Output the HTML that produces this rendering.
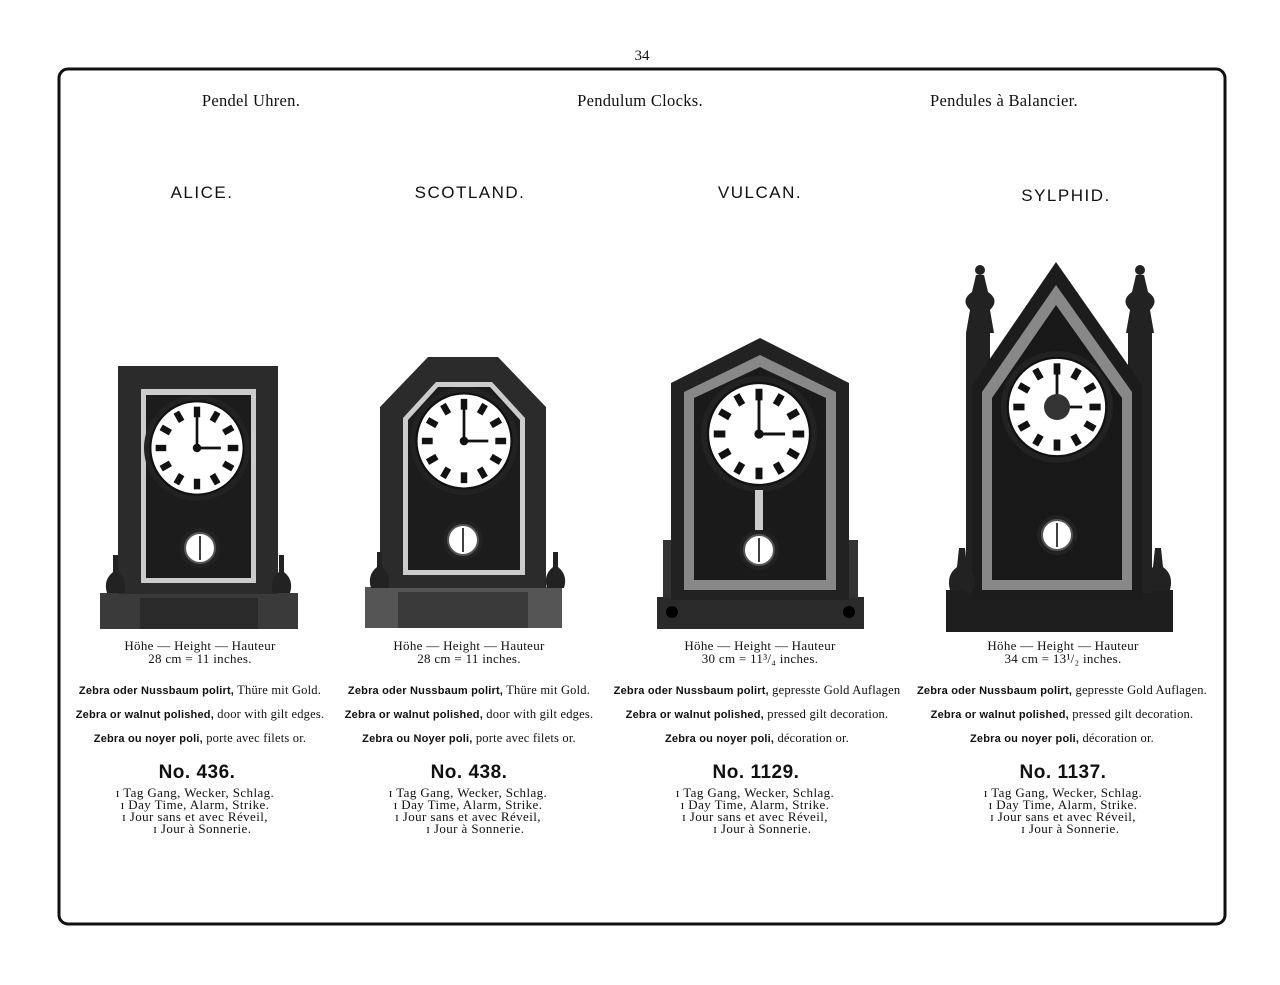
<!DOCTYPE html>
<html><head><meta charset="utf-8"><style>
body{margin:0;background:#fff;}
#p{position:relative;width:1280px;height:985px;overflow:hidden;background:#fff;font-family:"Liberation Serif",serif;color:#111;}
.t{position:absolute;white-space:nowrap;text-align:center;transform:translateX(-50%);}
.h{font-size:16.5px;top:91px;letter-spacing:0.3px;}
.n{font-family:"Liberation Sans",sans-serif;font-size:17px;letter-spacing:1.5px;top:183px;}
.ht{font-size:13px;line-height:13px;top:639px;letter-spacing:0.3px;}
.d{font-size:12.5px;letter-spacing:0.2px;}
.d b{font-family:"Liberation Sans",sans-serif;font-size:11px;}
.no{font-family:"Liberation Sans",sans-serif;font-size:19px;font-weight:bold;letter-spacing:0.5px;top:762px;}
.f{font-size:13px;line-height:12px;top:787px;letter-spacing:0.4px;}
</style></head><body><div id="p">
<svg width="1280" height="985" style="position:absolute;left:0;top:0">
<defs>
<g id="dial">
<circle r="1" fill="#222"/>
<circle r="0.88" fill="#fff" stroke="#111" stroke-width="0.04"/>
<g fill="#111">
<rect x="-0.06" y="-0.78" width="0.12" height="0.2"/>
<rect x="-0.06" y="-0.78" width="0.12" height="0.2" transform="rotate(30)"/>
<rect x="-0.06" y="-0.78" width="0.12" height="0.2" transform="rotate(60)"/>
<rect x="-0.06" y="-0.78" width="0.12" height="0.2" transform="rotate(90)"/>
<rect x="-0.06" y="-0.78" width="0.12" height="0.2" transform="rotate(120)"/>
<rect x="-0.06" y="-0.78" width="0.12" height="0.2" transform="rotate(150)"/>
<rect x="-0.06" y="-0.78" width="0.12" height="0.2" transform="rotate(180)"/>
<rect x="-0.06" y="-0.78" width="0.12" height="0.2" transform="rotate(210)"/>
<rect x="-0.06" y="-0.78" width="0.12" height="0.2" transform="rotate(240)"/>
<rect x="-0.06" y="-0.78" width="0.12" height="0.2" transform="rotate(270)"/>
<rect x="-0.06" y="-0.78" width="0.12" height="0.2" transform="rotate(300)"/>
<rect x="-0.06" y="-0.78" width="0.12" height="0.2" transform="rotate(330)"/>
</g>
<path d="M0 0 L0 -0.6 M0 0 L0.45 0" stroke="#111" stroke-width="0.05"/>
<circle r="0.08" fill="#111"/>
</g>
<g id="pend"><circle r="1" fill="#222"/><circle r="0.75" fill="#fff" stroke="#555" stroke-width="0.1"/><path d="M0 -0.6V0.6" stroke="#111" stroke-width="0.08"/></g>
</defs>
<rect x="59" y="69" width="1166" height="855" rx="9" fill="none" stroke="#111" stroke-width="3"/>

<!-- ALICE -->
<rect x="100" y="593" width="198" height="36" fill="#3a3a3a"/>
<rect x="140" y="598" width="118" height="31" fill="#2a2a2a"/>
<rect x="118" y="366" width="160" height="228" fill="#2b2b2b"/>
<rect x="141" y="389" width="115" height="194" fill="#ccc"/>
<rect x="146" y="395" width="105" height="183" fill="#1c1c1c"/>
<use href="#dial" transform="translate(197,448) scale(53)"/>
<use href="#pend" transform="translate(200,548) scale(20)"/>
<path d="M107 593 Q103 580 113 572 L113 555 L118 555 L118 572 Q128 580 124 593Z" fill="#222"/>
<path d="M273 593 Q269 580 279 572 L279 555 L284 555 L284 572 Q294 580 290 593Z" fill="#222"/>

<!-- SCOTLAND -->
<rect x="365" y="587" width="197" height="41" fill="#555"/>
<rect x="398" y="592" width="130" height="36" fill="#3a3a3a"/>
<path d="M380 407 L428 357 L498 357 L546 407 L546 588 L380 588Z" fill="#2b2b2b"/>
<path d="M403 418 L436 382 L492 382 L525 418 L525 575 L403 575Z" fill="#ccc"/>
<path d="M408 420 L438 387 L490 387 L520 420 L520 570 L408 570Z" fill="#1c1c1c"/>
<use href="#dial" transform="translate(464,441) scale(54)"/>
<use href="#pend" transform="translate(463,540) scale(20)"/>
<path d="M371 588 Q367 575 377 567 L377 552 L382 552 L382 567 Q392 575 388 588Z" fill="#222"/>
<path d="M547 588 Q543 575 553 567 L553 552 L558 552 L558 567 Q568 575 564 588Z" fill="#222"/>

<!-- VULCAN -->
<rect x="657" y="597" width="207" height="32" fill="#2a2a2a"/>
<rect x="663" y="540" width="24" height="58" fill="#333"/>
<rect x="834" y="540" width="24" height="58" fill="#333"/>
<path d="M671 383 L760 338 L849 383 L849 600 L671 600Z" fill="#222"/>
<path d="M684 392 L760 355 L836 392 L836 590 L684 590Z" fill="#888"/>
<path d="M694 398 L760 367 L826 398 L826 580 L694 580Z" fill="#1a1a1a"/>
<use href="#dial" transform="translate(759,434) scale(58)"/>
<rect x="755" y="490" width="8" height="40" fill="#ccc"/>
<use href="#pend" transform="translate(759,550) scale(20)"/>
<circle cx="672" cy="612" r="6" fill="#000"/><circle cx="849" cy="612" r="6" fill="#000"/>

<!-- SYLPHID -->
<rect x="946" y="590" width="227" height="42" fill="#1e1e1e"/>
<rect x="966" y="333" width="24" height="260" fill="#222"/>
<rect x="1128" y="333" width="24" height="260" fill="#222"/>
<path d="M972 385 L1056 262 L1142 385 L1142 600 L972 600Z" fill="#1c1c1c"/>
<path d="M982 392 L1056 285 L1132 392 L1132 590 L982 590Z" fill="#888"/>
<path d="M992 398 L1056 305 L1122 398 L1122 580 L992 580Z" fill="#181818"/>
<use href="#dial" transform="translate(1057,407) scale(56)"/>
<circle cx="1057" cy="407" r="13" fill="#333"/>
<use href="#pend" transform="translate(1057,535) scale(20)"/>
<path d="M966 333 L970 310 Q960 300 972 292 L976 275 L984 275 L988 292 Q1000 300 990 310 L994 333Z" fill="#222"/>
<circle cx="980" cy="270" r="5" fill="#222"/>
<path d="M1126 333 L1130 310 Q1120 300 1132 292 L1136 275 L1144 275 L1148 292 Q1160 300 1150 310 L1154 333Z" fill="#222"/>
<circle cx="1140" cy="270" r="5" fill="#222"/>
<path d="M950 590 Q946 575 957 567 L959 548 L965 548 L967 567 Q978 575 974 590Z" fill="#222"/>
<path d="M1146 590 Q1142 575 1153 567 L1155 548 L1161 548 L1163 567 Q1174 575 1170 590Z" fill="#222"/>
</svg>

<div class="t" style="left:642px;top:48px;font-size:15px">34</div>
<div class="t h" style="left:251px">Pendel Uhren.</div>
<div class="t h" style="left:640px">Pendulum Clocks.</div>
<div class="t h" style="left:1004px">Pendules à Balancier.</div>
<div class="t n" style="left:202px">ALICE.</div>
<div class="t n" style="left:470px">SCOTLAND.</div>
<div class="t n" style="left:760px">VULCAN.</div>
<div class="t n" style="left:1066px;top:186px">SYLPHID.</div>

<div class="t ht" style="left:200px">Höhe — Height — Hauteur<br>28 cm = 11 inches.</div>
<div class="t ht" style="left:469px">Höhe — Height — Hauteur<br>28 cm = 11 inches.</div>
<div class="t ht" style="left:760px">Höhe — Height — Hauteur<br>30 cm = 11³/₄ inches.</div>
<div class="t ht" style="left:1063px">Höhe — Height — Hauteur<br>34 cm = 13¹/₂ inches.</div>

<div class="t d" style="left:200px;top:683px"><b>Zebra oder Nussbaum polirt,</b> Thüre mit Gold.</div>
<div class="t d" style="left:200px;top:707px"><b>Zebra or walnut polished,</b> door with gilt edges.</div>
<div class="t d" style="left:200px;top:731px"><b>Zebra ou noyer poli,</b> porte avec filets or.</div>
<div class="t d" style="left:469px;top:683px"><b>Zebra oder Nussbaum polirt,</b> Thüre mit Gold.</div>
<div class="t d" style="left:469px;top:707px"><b>Zebra or walnut polished,</b> door with gilt edges.</div>
<div class="t d" style="left:469px;top:731px"><b>Zebra ou Noyer poli,</b> porte avec filets or.</div>
<div class="t d" style="left:757px;top:683px"><b>Zebra oder Nussbaum polirt,</b> gepresste Gold Auflagen</div>
<div class="t d" style="left:757px;top:707px"><b>Zebra or walnut polished,</b> pressed gilt decoration.</div>
<div class="t d" style="left:757px;top:731px"><b>Zebra ou noyer poli,</b> décoration or.</div>
<div class="t d" style="left:1062px;top:683px"><b>Zebra oder Nussbaum polirt,</b> gepresste Gold Auflagen.</div>
<div class="t d" style="left:1062px;top:707px"><b>Zebra or walnut polished,</b> pressed gilt decoration.</div>
<div class="t d" style="left:1062px;top:731px"><b>Zebra ou noyer poli,</b> décoration or.</div>

<div class="t no" style="left:197px">No. 436.</div>
<div class="t no" style="left:469px">No. 438.</div>
<div class="t no" style="left:756px">No. 1129.</div>
<div class="t no" style="left:1063px">No. 1137.</div>

<div class="t f" style="left:195px">ɪ Tag Gang, Wecker, Schlag.<br>ɪ Day Time, Alarm, Strike.<br>ɪ Jour sans et avec Réveil,<br>&nbsp;&nbsp;&nbsp;&nbsp;ɪ Jour à Sonnerie.</div>
<div class="t f" style="left:468px">ɪ Tag Gang, Wecker, Schlag.<br>ɪ Day Time, Alarm, Strike.<br>ɪ Jour sans et avec Réveil,<br>&nbsp;&nbsp;&nbsp;&nbsp;ɪ Jour à Sonnerie.</div>
<div class="t f" style="left:755px">ɪ Tag Gang, Wecker, Schlag.<br>ɪ Day Time, Alarm, Strike.<br>ɪ Jour sans et avec Réveil,<br>&nbsp;&nbsp;&nbsp;&nbsp;ɪ Jour à Sonnerie.</div>
<div class="t f" style="left:1063px">ɪ Tag Gang, Wecker, Schlag.<br>ɪ Day Time, Alarm, Strike.<br>ɪ Jour sans et avec Réveil,<br>&nbsp;&nbsp;&nbsp;&nbsp;ɪ Jour à Sonnerie.</div>
</div></body></html>
